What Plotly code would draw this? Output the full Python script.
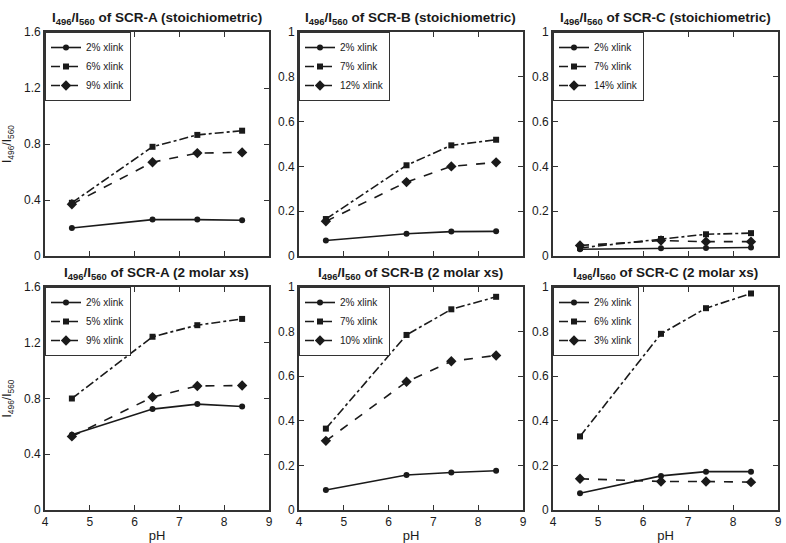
import plotly.graph_objects as go

ph = [4.6, 6.4, 7.4, 8.4]

# Panel titles
titles = [
    "SCR-A (stoichiometric)", "SCR-B (stoichiometric)", "SCR-C (stoichiometric)",
    "SCR-A (2 molar xs)", "SCR-B (2 molar xs)", "SCR-C (2 molar xs)",
]

# Series labels per panel
labels = [
    ["2% xlink", "6% xlink", "9% xlink"],
    ["2% xlink", "7% xlink", "12% xlink"],
    ["2% xlink", "7% xlink", "14% xlink"],
    ["2% xlink", "5% xlink", "9% xlink"],
    ["2% xlink", "7% xlink", "10% xlink"],
    ["2% xlink", "6% xlink", "3% xlink"],
]

# Values per panel (series order: circle, square, diamond)
a_stoich_low = [0.20, 0.26, 0.26, 0.255]
a_stoich_mid = [0.38, 0.78, 0.865, 0.895]
a_stoich_high = [0.37, 0.67, 0.735, 0.74]

b_stoich_low = [0.069, 0.099, 0.109, 0.11]
b_stoich_mid = [0.165, 0.405, 0.494, 0.519]
b_stoich_high = [0.155, 0.33, 0.40, 0.418]

c_stoich_low = [0.03, 0.035, 0.036, 0.038]
c_stoich_mid = [0.036, 0.076, 0.097, 0.102]
c_stoich_high = [0.047, 0.069, 0.064, 0.064]

a_xs_low = [0.54, 0.724, 0.76, 0.743]
a_xs_mid = [0.80, 1.243, 1.326, 1.371]
a_xs_high = [0.528, 0.81, 0.89, 0.893]

b_xs_low = [0.09, 0.157, 0.168, 0.176]
b_xs_mid = [0.365, 0.785, 0.90, 0.956]
b_xs_high = [0.31, 0.575, 0.667, 0.693]

c_xs_low = [0.075, 0.153, 0.172, 0.172]
c_xs_mid = [0.33, 0.79, 0.905, 0.971]
c_xs_high = [0.14, 0.128, 0.128, 0.125]

panel_values = [
    [a_stoich_low, a_stoich_mid, a_stoich_high],
    [b_stoich_low, b_stoich_mid, b_stoich_high],
    [c_stoich_low, c_stoich_mid, c_stoich_high],
    [a_xs_low, a_xs_mid, a_xs_high],
    [b_xs_low, b_xs_mid, b_xs_high],
    [c_xs_low, c_xs_mid, c_xs_high],
]

y_max = [1.6, 1, 1, 1.6, 1, 1]
y_ticks_a = [0, 0.4, 0.8, 1.2, 1.6]
y_ticks_bc = [0, 0.2, 0.4, 0.6, 0.8, 1]
x_ticks = [4, 5, 6, 7, 8, 9]

W, H = 786, 543
col_px = [(45, 269), (299, 523), (553, 778)]
row_px = [(32, 256), (287, 510)]

symbols = ["circle", "square", "diamond"]
dashes = ["solid", "dashdot", "dash"]
msizes = [6, 6, 8]
INK = "#1a1a1a"
FONT = "Arial, Liberation Sans, sans-serif"

fig = go.Figure()
layout = dict(
    width=W, height=H, margin=dict(l=0, r=0, t=0, b=0, autoexpand=False),
    paper_bgcolor="white", plot_bgcolor="white",
    font=dict(family=FONT, color=INK, size=12),
    showlegend=True,
)
annotations = []

for p in range(6):
    r, c = divmod(p, 3)
    ax = "" if p == 0 else str(p + 1)
    x0, x1 = col_px[c]
    ytop, ybot = row_px[r]
    xd = [x0 / W, x1 / W]
    yd = [1 - ybot / H, 1 - ytop / H]
    leg = "legend" if p == 0 else f"legend{p + 1}"
    for s in range(3):
        fig.add_trace(go.Scatter(
            x=ph, y=panel_values[p][s], name=labels[p][s],
            mode="lines+markers",
            line=dict(color=INK, width=1.6, dash=dashes[s]),
            marker=dict(symbol=symbols[s], size=msizes[s], color=INK),
            xaxis="x" + ax, yaxis="y" + ax, legend=leg,
        ))
    ticks_y = y_ticks_a if y_max[p] > 1.2 else y_ticks_bc
    layout["xaxis" + ax] = dict(
        domain=xd, anchor="y" + ax, range=[4, 9], tickvals=x_ticks,
        showticklabels=(r == 1), ticks="inside", ticklen=5, tickwidth=1.2,
        tickcolor="#333", showline=True, linecolor="#333", linewidth=1.6,
        mirror="ticks", showgrid=False, zeroline=False, automargin=False,
        tickfont=dict(size=12, color=INK),
        title=dict(text="pH" if r == 1 else "", font=dict(size=13)),
    )
    layout["yaxis" + ax] = dict(
        domain=yd, anchor="x" + ax, range=[0, y_max[p]], tickvals=ticks_y,
        ticktext=[("%g" % v) for v in ticks_y],
        ticks="inside", ticklen=5, tickwidth=1.2, tickcolor="#333",
        showline=True, linecolor="#333", linewidth=1.6, mirror="ticks",
        showgrid=False, zeroline=False, automargin=False,
        tickfont=dict(size=12, color=INK),
        title=dict(text="I<sub>496</sub>/I<sub>560</sub>" if c == 0 else "",
                   font=dict(size=12)),
    )
    layout[leg] = dict(
        x=xd[0], y=yd[1], xanchor="left", yanchor="top",
        xref="paper", yref="paper",
        bgcolor="white", bordercolor="#333", borderwidth=1,
        font=dict(size=10, color=INK), itemwidth=30,
        tracegroupgap=0, itemclick=False,
    )
    annotations.append(dict(
        x=(xd[0] + xd[1]) / 2, y=1 - (ytop - 3) / H, xref="paper", yref="paper",
        xanchor="center", yanchor="bottom", showarrow=False,
        text=f"<b>I<sub>496</sub>/I<sub>560</sub> of {titles[p]}</b>",
        font=dict(size=13.5, color=INK),
    ))

layout["annotations"] = annotations
fig.update_layout(**layout)
fig.write_html(
    "out.html",
    config={"displayModeBar": False},
    post_script="document.body.style.margin='0';document.body.style.padding='0';",
)
